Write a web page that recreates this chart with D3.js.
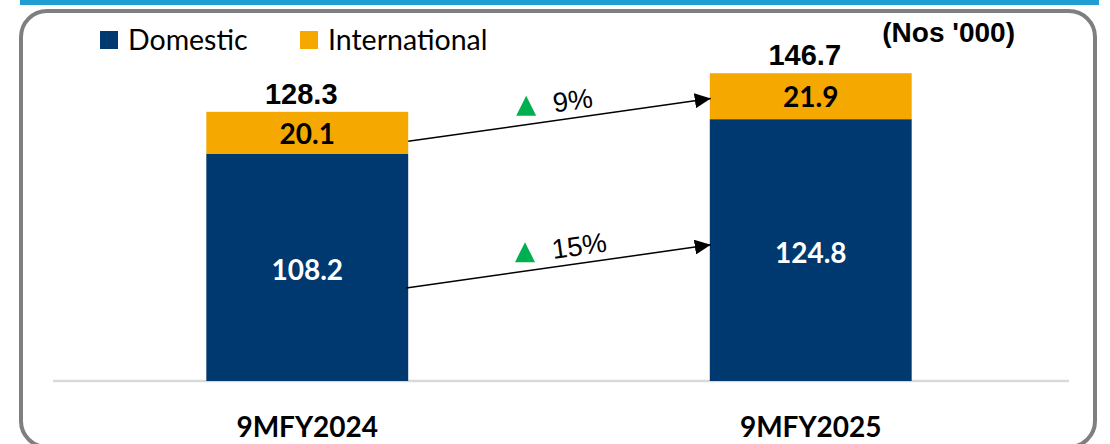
<!DOCTYPE html>
<html>
<head>
<meta charset="utf-8">
<script src="https://cdn.jsdelivr.net/npm/d3@7"></script>
<style>
  html, body { margin: 0; padding: 0; background: #fff; }
  svg { display: block; }
</style>
</head>
<body>
<svg id="chart" width="1110" height="444"></svg>
<script>
// ---- data ----
const categories = ["9MFY2024", "9MFY2025"];
const domestic = [108.2, 124.8];
const international = [20.1, 21.9];
const totals = [128.3, 146.7];
const seriesNames = ["Domestic", "International"];
const unitLabel = "(Nos '000)";

// ---- styles ----
const colDom = "#003870";
const colInt = "#f5a800";
const W = 1110, H = 444;

const svg = d3.select("#chart");

// frame decoration
svg.append("rect").attr("x", 20).attr("y", 0).attr("width", 1079).attr("height", 5).attr("fill", "#1f9ed2");
svg.append("rect").attr("x", 21).attr("y", 11).attr("width", 1074).attr("height", 436)
  .attr("rx", 26).attr("ry", 26).attr("fill", "none").attr("stroke", "#7f7f7f").attr("stroke-width", 4);

// scales
const x = d3.scaleBand().domain(categories).range([51, 1067]).paddingInner(0.599).paddingOuter(0.3085);
const y = d3.scaleLinear().domain([0, 150]).range([381, 381 - 150 * 2.098]);
const bw = x.bandwidth();

// baseline
svg.append("line").attr("x1", 53).attr("x2", 1069).attr("y1", y(0)).attr("y2", y(0))
  .attr("stroke", "#d9d9d9").attr("stroke-width", 2.5);

const rows = categories.map((c, i) => ({ c, d: domestic[i], n: international[i], t: totals[i] }));

// bars
svg.selectAll("rect.dom").data(rows).join("rect").attr("class", "dom")
  .attr("x", r => x(r.c)).attr("width", bw)
  .attr("y", r => y(r.d)).attr("height", r => y(0) - y(r.d)).attr("fill", colDom);
svg.selectAll("rect.int").data(rows).join("rect").attr("class", "int")
  .attr("x", r => x(r.c)).attr("width", bw)
  .attr("y", r => y(r.d + r.n)).attr("height", r => y(r.d) - y(r.d + r.n)).attr("fill", colInt);

// segment labels
const segFont = "Lato, 'Open Sans', sans-serif";
svg.selectAll("text.domlab").data(rows).join("text")
  .attr("x", r => x(r.c) + bw / 2).attr("y", r => (y(0) + y(r.d)) / 2 + 13)
  .attr("text-anchor", "middle").attr("font-family", segFont).attr("font-weight", 700)
  .attr("font-size", 28).attr("fill", "#fff").text(r => r.d.toFixed(1));
svg.selectAll("text.intlab").data(rows).join("text")
  .attr("x", r => x(r.c) + bw / 2).attr("y", r => (y(r.d) + y(r.d + r.n)) / 2 + 11)
  .attr("text-anchor", "middle").attr("font-family", segFont).attr("font-weight", 700)
  .attr("font-size", 28).attr("fill", "#000").text(r => r.n.toFixed(1));

// totals
const arial = "'Liberation Sans', Arial, sans-serif";
svg.selectAll("text.tot").data(rows).join("text")
  .attr("x", r => x(r.c) + bw / 2 - 6).attr("y", r => y(r.d + r.n) - 8)
  .attr("text-anchor", "middle").attr("font-family", arial).attr("font-weight", 700)
  .attr("font-size", 29).attr("fill", "#000").text(r => r.t.toFixed(1));

// category labels
svg.selectAll("text.cat").data(categories).join("text")
  .attr("x", c => x(c) + bw / 2).attr("y", 437)
  .attr("text-anchor", "middle").attr("font-family", segFont).attr("font-weight", 700)
  .attr("font-size", 28).attr("fill", "#000").text(c => c);

// legend
const legendX = [100, 300];
const lg = svg.selectAll("g.leg").data(seriesNames).join("g").attr("class", "leg")
  .attr("transform", (d, i) => `translate(${legendX[i]},31)`);
lg.append("rect").attr("width", 18).attr("height", 18).attr("fill", (d, i) => i === 0 ? colDom : colInt);
lg.append("text").attr("x", 28).attr("y", 19).attr("font-family", segFont).attr("font-size", 28.5)
  .attr("fill", "#000").text(d => d);

// unit label
svg.append("text").attr("x", 1015).attr("y", 42).attr("text-anchor", "end")
  .attr("font-family", arial).attr("font-weight", 700).attr("font-size", 28).text(unitLabel);

// arrows
svg.append("defs").append("marker").attr("id", "ah")
  .attr("viewBox", "0 0 16 15").attr("refX", 16).attr("refY", 7.5)
  .attr("markerWidth", 16).attr("markerHeight", 15).attr("markerUnits", "userSpaceOnUse")
  .attr("orient", "auto")
  .append("path").attr("d", "M0,0 L16,7.5 L0,15 Z").attr("fill", "#000");

const arrows = [
  { x1: x(categories[0]) + bw, y1: y(domestic[0] + international[0] * 0.3),
    x2: x(categories[1]) + 1, y2: y(domestic[1] + international[1] * 0.45),
    pct: Math.round((international[1] / international[0] - 1) * 100) },
  { x1: x(categories[0]) + bw - 2, y1: y(domestic[0] * 0.41),
    x2: x(categories[1]) + 1, y2: y(domestic[1] * 0.52),
    pct: Math.round((domestic[1] / domestic[0] - 1) * 100) }
];

arrows.forEach(a => {
  svg.append("line").attr("x1", a.x1).attr("y1", a.y1).attr("x2", a.x2).attr("y2", a.y2)
    .attr("stroke", "#000").attr("stroke-width", 1.5).attr("marker-end", "url(#ah)");
  const ang = Math.atan2(a.y2 - a.y1, a.x2 - a.x1) * 180 / Math.PI;
  const at = f => [a.x1 + (a.x2 - a.x1) * f, a.y1 + (a.y2 - a.y1) * f];
  const [tx, ty] = at(0.39);
  svg.append("path")
    .attr("d", `M${tx - 10},${ty - 9} L${tx + 10},${ty - 9} L${tx},${ty - 29} Z`)
    .attr("fill", "#00b050");
  const [px, py] = at(0.48);
  svg.append("text").attr("x", px + 2).attr("y", py - 8)
    .attr("transform", `rotate(${ang},${px},${py})`)
    .attr("font-family", arial).attr("font-size", 27.5).attr("fill", "#000")
    .text(a.pct + "%");
});
</script>
</body>
</html>
